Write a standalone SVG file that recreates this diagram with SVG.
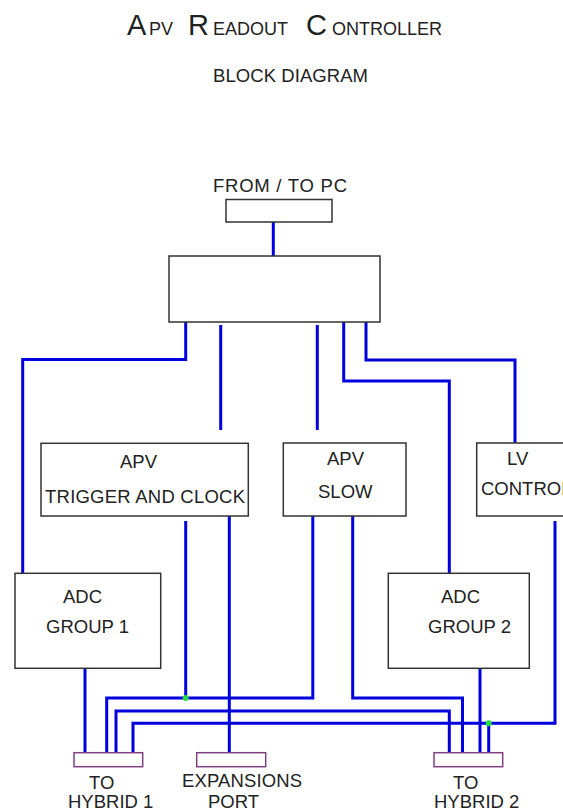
<svg xmlns="http://www.w3.org/2000/svg" width="563" height="811" viewBox="0 0 563 811">
<style>
.box{fill:#fff;stroke:#333;stroke-width:1.5}
.port{fill:#fff;stroke:#804080;stroke-width:1.5}
.w{fill:none;stroke:#0000dd;stroke-width:3;stroke-linejoin:miter}
text{font-family:"Liberation Sans",Arial,sans-serif;fill:#222;font-size:18.5px}
.dot{fill:#22dd44}
</style>
<rect width="563" height="811" fill="#fff"/>
<g id="title">
<text y="35"><tspan x="127" font-size="29">A</tspan><tspan x="149" font-size="18">PV</tspan><tspan x="188" font-size="29">R</tspan><tspan x="213" font-size="18">EADOUT</tspan><tspan x="306" font-size="29">C</tspan><tspan x="332" font-size="18">ONTROLLER</tspan></text>
<text x="213" y="82" font-size="17.5" textLength="155">BLOCK DIAGRAM</text>
</g>
<g id="connectors">
<path class="w" d="M273.3,222V256"/>
<path class="w" d="M185.7,322V359.5H22.7V573"/>
<path class="w" d="M220.7,325V430"/>
<path class="w" d="M317.3,325V430"/>
<path class="w" d="M343.7,322V381H449.3V573"/>
<path class="w" d="M366,322V360H515V443"/>
<path class="w" d="M185.7,521V698"/>
<path class="w" d="M229.3,516V752.7"/>
<path class="w" d="M312.8,516V698H106.7V752.7"/>
<path class="w" d="M352.7,516V698H462.5V752.7"/>
<path class="w" d="M116,752.7V711H449.3V752.7"/>
<path class="w" d="M555,521V723.3H133V752.7"/>
<path class="w" d="M488.7,723.3V752.7"/>
<path class="w" d="M85,668V752.7"/>
<path class="w" d="M480,668V752.7"/>
<circle class="dot" cx="185.7" cy="698" r="3"/>
<circle class="dot" cx="488.7" cy="723.3" r="3"/>
</g>
<g id="pc">
<text x="213" y="192" textLength="134">FROM / TO  PC</text>
<rect class="box" x="226" y="199.5" width="106" height="22.5"/>
</g>
<g id="main">
<rect class="box" x="169" y="256" width="211" height="66"/>
</g>
<g id="trigger">
<rect class="box" x="41" y="443.3" width="207.3" height="72.7"/>
<text x="120" y="468">APV</text>
<text x="45" y="503" textLength="200">TRIGGER AND CLOCK</text>
</g>
<g id="slow">
<rect class="box" x="283.3" y="443" width="122.7" height="73"/>
<text x="327" y="465">APV</text>
<text x="318" y="498">SLOW</text>
</g>
<g id="lv">
<rect class="box" x="476.7" y="443" width="100" height="73"/>
<text x="507" y="465">LV</text>
<text x="481" y="495">CONTROL</text>
</g>
<g id="adc1">
<rect class="box" x="15" y="573.3" width="145.7" height="95"/>
<text x="63" y="603">ADC</text>
<text x="46" y="633">GROUP 1</text>
</g>
<g id="adc2">
<rect class="box" x="388.3" y="573.3" width="141" height="95"/>
<text x="441" y="603">ADC</text>
<text x="428" y="633">GROUP 2</text>
</g>
<g id="hybrid1">
<rect class="port" x="74" y="752.7" width="68.7" height="14"/>
<text x="89" y="789">TO</text>
<text x="68" y="808">HYBRID 1</text>
</g>
<g id="expansion">
<rect class="port" x="196.7" y="752.7" width="69" height="14"/>
<text x="182" y="787" textLength="120">EXPANSIONS</text>
<text x="208" y="808">PORT</text>
</g>
<g id="hybrid2">
<rect class="port" x="434" y="752.7" width="68.7" height="14"/>
<text x="453" y="789">TO</text>
<text x="434" y="808">HYBRID 2</text>
</g>
</svg>
